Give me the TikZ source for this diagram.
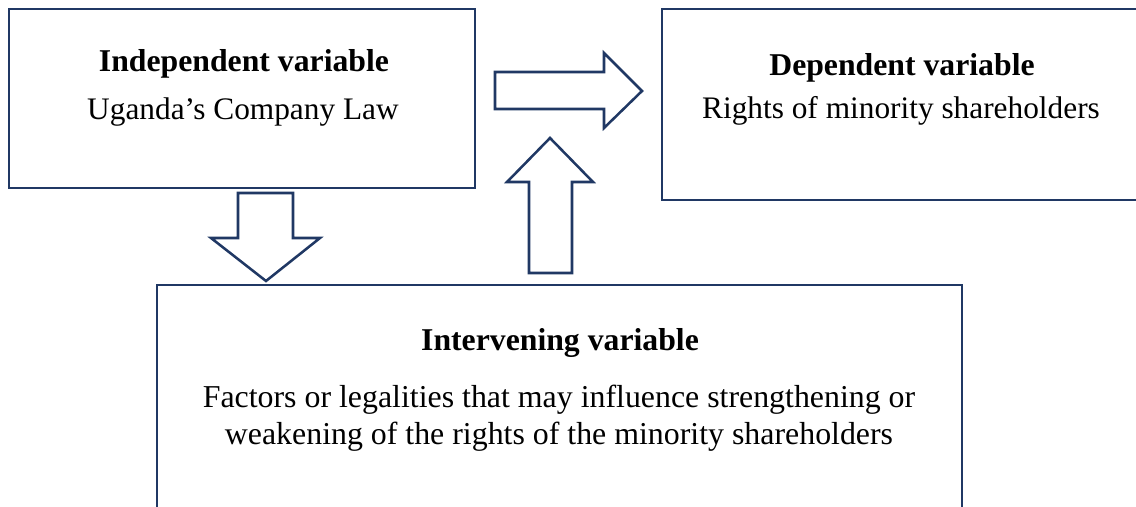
\documentclass[tikz,border=0pt]{standalone}
\usepackage{fontspec}
\setmainfont{Liberation Serif}
\definecolor{boxnavy}{RGB}{32,56,100}

\tikzset{every picture/.style={line width=0.75pt}}
\tikzset{
  varbox/.style={draw=boxnavy, line width=1.9pt, rectangle, inner sep=0pt},
  blockarrow/.style={draw=boxnavy, line width=1.9pt, line join=miter, fill=white},
  vartitle/.style={anchor=base, inner sep=0.75pt, font=\fontsize{23.8}{28.5}\selectfont\bfseries},
  vartext/.style={anchor=base, inner sep=0.75pt, font=\fontsize{23.5}{28.5}\selectfont, align=center},
}

\begin{document}
\begin{tikzpicture}[x=0.75pt,y=0.75pt,yscale=-1,xscale=1]
\useasboundingbox (0,0) rectangle (1136,507);
\clip (0,0) rectangle (1136,507);

%Shape: Rectangle [independent]
\node [varbox, minimum width=349.5pt, minimum height=134.25pt] (indep) at (242,98.5) {};
%Shape: Rectangle [dependent]
\node [varbox, minimum width=358.5pt, minimum height=143.25pt] (dep) at (901,104.5) {};
%Shape: Rectangle [intervening]
\node [varbox, minimum width=603.75pt, minimum height=191.25pt] (interv) at (559.5,412.5) {};

%Shape: Right Arrow
\draw [blockarrow] (495,72) -- (604,72) -- (604,53) -- (642,91) -- (604,128) -- (604,109) -- (495,109) -- cycle ;
%Shape: Up Arrow
\draw [blockarrow] (529,273) -- (529,182) -- (507,182) -- (550,138) -- (593,182) -- (572,182) -- (572,273) -- cycle ;
%Shape: Down Arrow
\draw [blockarrow] (238,193) -- (293,193) -- (293,238) -- (320,238) -- (266,281) -- (211,238) -- (238,238) -- cycle ;

% Text Node
\node [vartitle] (indeptitle) at (244,71) {Independent variable};
% Text Node
\node [vartext] (indeptext) at (243,119) {Uganda’s Company Law};
% Text Node
\node [vartitle] (deptitle) at (902,75) {Dependent variable};
% Text Node
\node [vartext] (deptext) at (901,118) {Rights of minority shareholders};
% Text Node
\node [vartitle] (intervtitle) at (560,350) {Intervening variable};
% Text Node
\node [vartext, font=\fontsize{23.9}{27.75}\selectfont] (intervtext) at (559,444) {Factors or legalities that may influence strengthening or\\weakening of the rights of the minority shareholders};

\end{tikzpicture}
\end{document}
